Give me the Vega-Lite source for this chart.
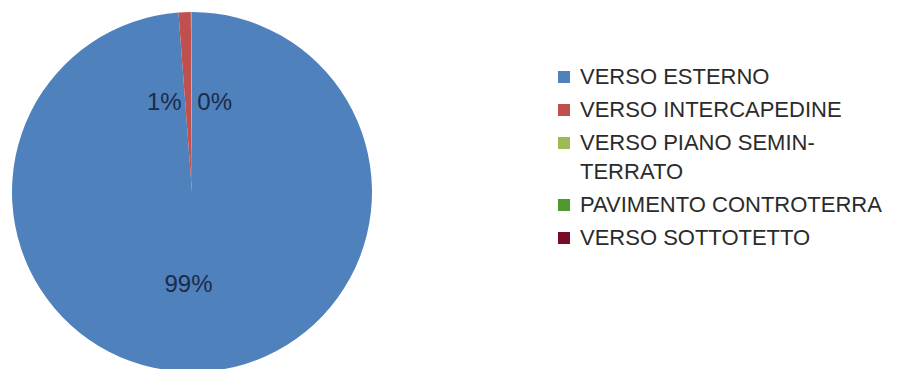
{
  "$schema": "https://vega.github.io/schema/vega-lite/v6.json",
  "width": 384,
  "height": 384,
  "padding": 0,
  "background": "white",
  "config": {"view": {"stroke": null}, "font": "Liberation Sans"},
  "data": {"values": [
    {"category": "VERSO ESTERNO", "share": 0.988},
    {"category": "VERSO INTERCAPEDINE", "share": 0.011},
    {"category": "VERSO PIANO SEMIN-TERRATO", "share": 0.001},
    {"category": "PAVIMENTO CONTROTERRA", "share": 0},
    {"category": "VERSO SOTTOTETTO", "share": 0}
  ]},
  "encoding": {
    "theta": {"field": "share", "type": "quantitative", "stack": true},
    "color": {
      "field": "category",
      "type": "nominal",
      "sort": ["VERSO ESTERNO", "VERSO INTERCAPEDINE", "VERSO PIANO SEMIN-TERRATO", "PAVIMENTO CONTROTERRA", "VERSO SOTTOTETTO"],
      "scale": {
        "domain": ["VERSO ESTERNO", "VERSO INTERCAPEDINE", "VERSO PIANO SEMIN-TERRATO", "PAVIMENTO CONTROTERRA", "VERSO SOTTOTETTO"],
        "range": ["#4f81bd", "#c0504d", "#9bbb59", "#4e9a2f", "#7b0a26"]
      },
      "legend": {
        "title": null,
        "orient": "none",
        "legendX": 553,
        "legendY": 66,
        "padding": 0,
        "symbolType": "square",
        "symbolSize": 144,
        "symbolStrokeWidth": 0,
        "labelFont": "Liberation Sans",
        "labelFontSize": 22,
        "labelColor": "#2b2b2b",
        "labelOffset": 5,
        "labelLimit": 400,
        "rowPadding": 11,
        "labelExpr": "datum.label == 'VERSO PIANO SEMIN-TERRATO' ? ['VERSO PIANO SEMIN-', 'TERRATO'] : datum.label",
        "encode": {"labels": {"update": {"lineHeight": {"value": 29}}}}
      }
    }
  },
  "layer": [
    {"mark": {"type": "arc", "outerRadius": 180}},
    {
      "mark": {"type": "text", "radius": 93, "fontSize": 24, "font": "Liberation Sans", "align": "center", "baseline": "middle"},
      "encoding": {
        "text": {"field": "share", "type": "quantitative", "format": ".0%"},
        "color": {"value": "#1c2b48"},
        "opacity": {"condition": {"test": "datum.category == 'VERSO ESTERNO'", "value": 1}, "value": 0}
      }
    },
    {
      "mark": {"type": "text", "radius": 89, "fontSize": 24, "font": "Liberation Sans", "align": "right", "dx": -14, "baseline": "middle"},
      "encoding": {
        "text": {"field": "share", "type": "quantitative", "format": ".0%"},
        "color": {"value": "#1c2b48"},
        "opacity": {"condition": {"test": "datum.category == 'VERSO INTERCAPEDINE'", "value": 1}, "value": 0}
      }
    },
    {
      "mark": {"type": "text", "radius": 89, "fontSize": 24, "font": "Liberation Sans", "align": "left", "dx": 5, "baseline": "middle"},
      "encoding": {
        "text": {"field": "share", "type": "quantitative", "format": ".0%"},
        "color": {"value": "#1c2b48"},
        "opacity": {"condition": {"test": "datum.category == 'VERSO PIANO SEMIN-TERRATO'", "value": 1}, "value": 0}
      }
    }
  ]
}
